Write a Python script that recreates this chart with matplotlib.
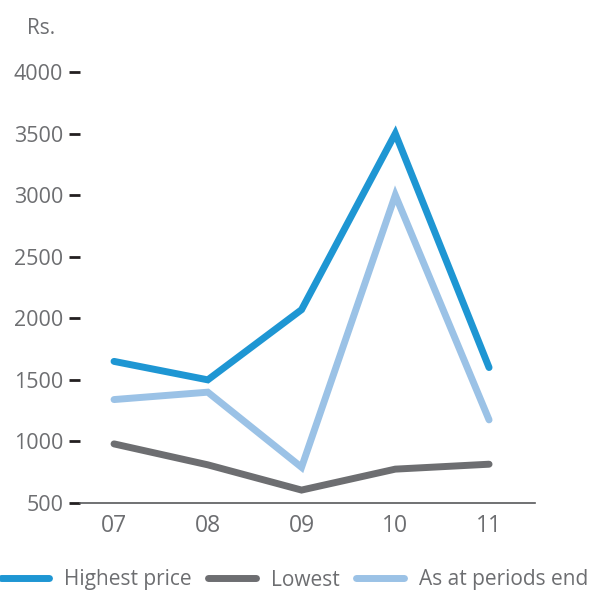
import matplotlib
matplotlib.use("Agg")
import matplotlib.pyplot as plt

years = ["07", "08", "09", "10", "11"]
highest = [1650, 1500, 2070, 3500, 1600]
lowest = [980, 810, 605, 775, 815]
period_end = [1340, 1400, 790, 3000, 1175]
yticks = [500, 1000, 1500, 2000, 2500, 3000, 3500, 4000]

plt.rcParams['font.family'] = ['Open Sans', 'DejaVu Sans']
txt = '#6d6e71'

fig = plt.figure(figsize=(5.93, 5.96), dpi=100)
ax = fig.add_axes([80/593, 1-503/596, (535-80)/593, (503-72)/596])
x = range(len(years))
ax.plot(x, highest, color='#1e96d3', lw=5, solid_capstyle='round', solid_joinstyle='miter', label='Highest price', clip_on=False)
ax.plot(x, lowest, color='#6d6e71', lw=5, solid_capstyle='round', solid_joinstyle='miter', label='Lowest', clip_on=False)
ax.plot(x, period_end, color='#9bc2e6', lw=5, solid_capstyle='round', solid_joinstyle='miter', label='As at periods end', clip_on=False)

ax.set_xlim(-0.363, 4.49)
ax.set_ylim(500, 4000)
ax.set_xticks(list(x))
ax.set_xticklabels(years)
ax.set_yticks(yticks)
for s in ['top', 'right', 'left']:
    ax.spines[s].set_visible(False)
ax.spines['bottom'].set_color('#58595b')
ax.spines['bottom'].set_linewidth(1.2)
ax.tick_params(axis='y', length=8, width=2, color='#231f20', labelsize=15.5, labelcolor=txt, pad=4)
ax.tick_params(axis='x', length=0, labelsize=16.5, labelcolor=txt, pad=8)

fig.text(27/593, 1-28/596, 'Rs.', fontsize=15, color=txt, va='center', ha='left')

leg = fig.legend(loc='center', bbox_to_anchor=(0.497, 1-580/596), ncol=3, frameon=False,
                 fontsize=15, handlelength=2.3, columnspacing=0.8, handletextpad=0.7,
                 borderpad=0.1, labelcolor=txt)
fig.savefig('out.png', dpi=100)
